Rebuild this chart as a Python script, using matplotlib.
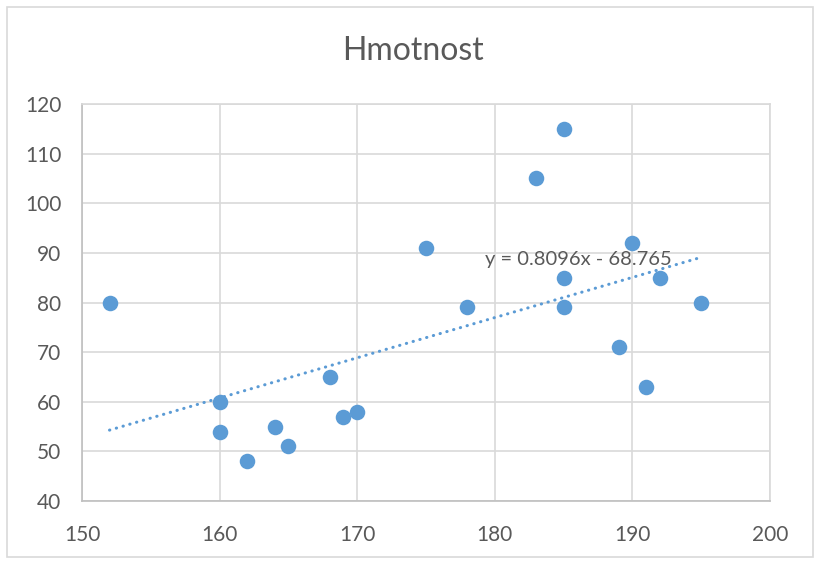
import matplotlib
matplotlib.use('Agg')
import matplotlib.pyplot as plt
from matplotlib.patches import Rectangle

# height (cm) vs weight (kg)
vyska = [152, 160, 160, 162, 164, 165, 168, 169, 170, 175,
         178, 183, 185, 185, 185, 189, 190, 191, 192, 195]
hmotnost = [80, 60, 54, 48, 55, 51, 65, 57, 58, 91,
            79, 105, 115, 85, 79, 71, 92, 63, 85, 80]

# trendline from the chart label
slope = 0.8096
intercept = -68.765
trend_x = [min(vyska), max(vyska)]

blue = '#5B9BD5'
gray = '#595959'

plt.rcParams['font.family'] = ['Lato', 'DejaVu Sans']

fig = plt.figure(figsize=(8.16, 5.63), dpi=100)
ax = fig.add_axes([0.1005, 0.110, 0.843, 0.7053])

ax.scatter(vyska, hmotnost, s=125, color=blue, zorder=3, linewidths=0)
trend_y = [slope * x + intercept for x in trend_x]
ax.plot(trend_x, trend_y, color=blue, lw=2.2, linestyle=(0, (0.1, 2.2)),
        dash_capstyle='round', zorder=2)
ax.text(186.1, 88.6, f'y = {slope}x - {abs(intercept)}', ha='center', va='center',
        fontsize=14.5, color=gray, zorder=4)

ax.set_xlim(150, 200)
ax.set_ylim(40, 120)
ax.set_xticks(range(150, 201, 10))
ax.set_yticks(range(40, 121, 10))
ax.grid(True, color='#D9D9D9', lw=1.2)
ax.set_axisbelow(True)
for side in ['top', 'right']:
    ax.spines[side].set_color('#D9D9D9')
    ax.spines[side].set_linewidth(1.2)
for side in ['left', 'bottom']:
    ax.spines[side].set_color('#BFBFBF')
    ax.spines[side].set_linewidth(1.2)
ax.tick_params(length=0, labelsize=15, colors=gray)
ax.tick_params(axis='x', pad=17)
ax.tick_params(axis='y', pad=15)

fig.text(0.506, 0.91, 'Hmotnost', ha='center', va='center', fontsize=23, color=gray)

fig.patches.append(Rectangle((0.008, 0.011), 0.988, 0.976, transform=fig.transFigure,
                             fill=False, edgecolor='#D9D9D9', lw=1.2))

fig.savefig('out.png', dpi=100)
